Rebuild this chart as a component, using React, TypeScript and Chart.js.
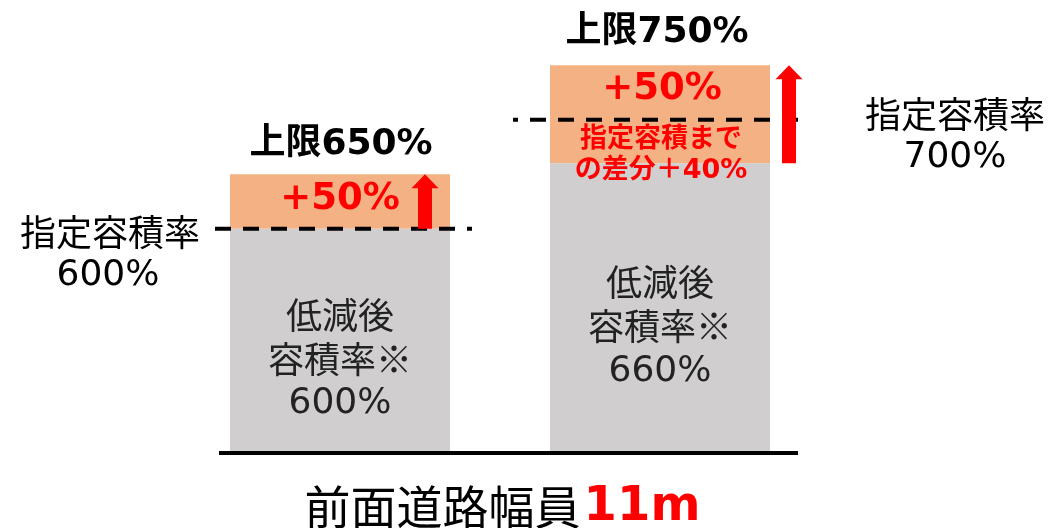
import React, { useEffect, useRef } from "react";
import { Chart, registerables } from "chart.js";

Chart.register(...registerables);

const categories = ["指定容積率600%", "指定容積率700%"];
const reducedRatio = [600, 660];
const bonusRatio = [50, 90];
const designatedRatio = [600, 700];
const capRatio = [650, 750];
const capLabels = ["上限650%", "上限750%"];
const reducedLabels = [
  ["低減後", "容積率※", "600%"],
  ["低減後", "容積率※", "660%"],
];
const designatedLabels = [
  ["指定容積率", "600%"],
  ["指定容積率", "700%"],
];
const bonusLabel = "+50%";
const diffLabels = ["指定容積まで", "の差分＋40%"];
const titleMain = "前面道路幅員";
const titleRed = "11m";

const JP = '"Noto Sans CJK JP", "Noto Sans", sans-serif';
const NUM = '"DejaVu Sans", "Noto Sans CJK JP", sans-serif';
const RED = "#FF0000";

const overlay = {
  id: "overlay",
  afterDatasetsDraw(chart: any) {
    const ctx = chart.ctx as CanvasRenderingContext2D;
    const ys = chart.scales.y;
    const bars = chart.getDatasetMeta(0).data as any[];
    const bounds = bars.map((b: any) => ({
      left: b.x - b.width / 2,
      right: b.x + b.width / 2,
      cx: b.x,
    }));
    const bottom = ys.getPixelForValue(ys.min);

    const text = (s: string, x: number, y: number, font: string, color: string, align: CanvasTextAlign = "center") => {
      ctx.save();
      ctx.font = font;
      ctx.fillStyle = color;
      ctx.textAlign = align;
      ctx.textBaseline = "middle";
      ctx.fillText(s, x, y);
      ctx.restore();
    };

    // baseline
    ctx.save();
    ctx.strokeStyle = "#000";
    ctx.lineWidth = 4;
    ctx.beginPath();
    ctx.moveTo(bounds[0].left - 11, bottom);
    ctx.lineTo(bounds[1].right + 28, bottom);
    ctx.stroke();
    ctx.restore();

    // dashed designated lines
    const dashExt = [
      [15, 22],
      [37, 28],
    ];
    designatedRatio.forEach((v, i) => {
      const y = ys.getPixelForValue(v);
      ctx.save();
      ctx.strokeStyle = "#000";
      ctx.lineWidth = 4;
      ctx.setLineDash([16, 12]);
      ctx.beginPath();
      if (i === 0) {
        ctx.moveTo(bounds[i].left - dashExt[i][0], y);
        ctx.lineTo(bounds[i].right + dashExt[i][1], y);
      } else {
        ctx.moveTo(bounds[i].right + dashExt[i][1], y);
        ctx.lineTo(bounds[i].left - dashExt[i][0], y);
      }
      ctx.stroke();
      ctx.restore();
    });

    // arrows
    const arrowX = [bounds[0].right - 25, bounds[1].right + 19];
    reducedRatio.forEach((v, i) => {
      const yB = ys.getPixelForValue(v);
      const yT = ys.getPixelForValue(capRatio[i]);
      const x = arrowX[i];
      const sw = 7, hw = 13.5, hh = 14;
      ctx.save();
      ctx.fillStyle = RED;
      ctx.beginPath();
      ctx.moveTo(x, yT);
      ctx.lineTo(x + hw, yT + hh);
      ctx.lineTo(x + sw, yT + hh);
      ctx.lineTo(x + sw, yB);
      ctx.lineTo(x - sw, yB);
      ctx.lineTo(x - sw, yT + hh);
      ctx.lineTo(x - hw, yT + hh);
      ctx.closePath();
      ctx.fill();
      ctx.restore();
    });

    // cap labels
    text(capLabels[0], bounds[0].cx + 1, 145, `bold 36px ${NUM}`, "#000");
    text(capLabels[1], bounds[1].cx - 3, 33, `bold 36px ${NUM}`, "#000");

    // +50% labels
    text(bonusLabel, bounds[0].cx, 199, `bold 37px ${NUM}`, RED);
    text(bonusLabel, bounds[1].cx + 2, 89, `bold 37px ${NUM}`, RED);

    // diff labels in bar 2
    text(diffLabels[0], bounds[1].cx + 1, 137, `bold 27px ${JP}`, RED);
    text(diffLabels[1], bounds[1].cx + 1, 171, `bold 27px ${NUM}`, RED);

    // reduced labels
    const reducedY = [
      [315, 359, 404],
      [282, 326, 372],
    ];
    reducedLabels.forEach((lines, i) => {
      lines.forEach((s, j) => {
        const f = j === 2 ? `36px ${NUM}` : `36px ${JP}`;
        text(s, bounds[i].cx, reducedY[i][j], f, "#222");
      });
    });

    // designated labels
    text(designatedLabels[0][0], 110, 232, `36px ${JP}`, "#000");
    text(designatedLabels[0][1], 108, 276, `36px ${NUM}`, "#000");
    text(designatedLabels[1][0], 955, 114, `36px ${JP}`, "#000");
    text(designatedLabels[1][1], 955, 158, `36px ${NUM}`, "#000");

    // title
    ctx.save();
    ctx.textBaseline = "middle";
    const f1 = `46px ${JP}`;
    const f2 = `bold 48px ${NUM}`;
    ctx.font = f1;
    const w1 = ctx.measureText(titleMain).width;
    ctx.font = f2;
    const w2 = ctx.measureText(titleRed).width;
    const startX = 501 - (w1 + w2) / 2;
    ctx.font = f1;
    ctx.fillStyle = "#000";
    ctx.textAlign = "left";
    ctx.fillText(titleMain, startX, 507);
    ctx.font = f2;
    ctx.fillStyle = RED;
    ctx.fillText(titleRed, startX + w1 + 3, 508);
    ctx.restore();
  },
};

export default function App() {
  const ref = useRef<HTMLCanvasElement>(null);
  useEffect(() => {
    document.body.style.margin = "0";
    if (!ref.current) return;
    const chart = new Chart(ref.current, {
      type: "bar",
      data: {
        labels: categories,
        datasets: [
          {
            label: "低減後容積率",
            data: reducedRatio,
            backgroundColor: "#D0CECE",
            barPercentage: 0.6875,
            categoryPercentage: 1,
          },
          {
            label: "加算",
            data: bonusRatio,
            backgroundColor: "#F4B183",
            barPercentage: 0.6875,
            categoryPercentage: 1,
          },
        ],
      },
      options: {
        responsive: false,
        animation: false,
        devicePixelRatio: 1,
        layout: { padding: { left: 180, right: 229, top: 0, bottom: 75 } },
        scales: {
          x: { stacked: true, display: false },
          y: { stacked: true, display: false, min: 394, max: 810 },
        },
        plugins: { legend: { display: false }, tooltip: { enabled: false } },
      },
      plugins: [overlay],
    });
    return () => chart.destroy();
  }, []);
  return (
    <div style={{ width: 1049, height: 528 }}>
      <canvas ref={ref} width={1049} height={528} />
    </div>
  );
}
